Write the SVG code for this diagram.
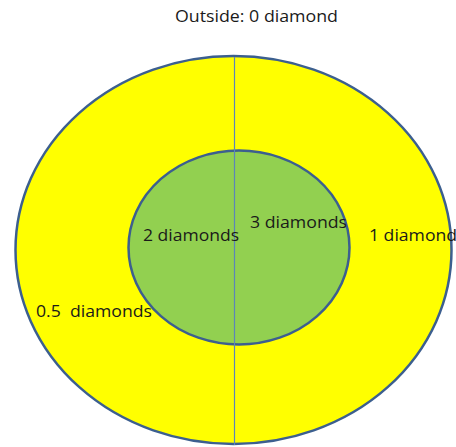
<svg xmlns="http://www.w3.org/2000/svg" width="456" height="447" viewBox="0 0 456 447">
<style>
.lbl{font-family:"Open Sans","Liberation Sans",sans-serif;font-size:16px;fill:#1a1a1a;white-space:pre}
.ring{stroke:#3c5f8f;stroke-width:2.5}
</style>
<rect width="456" height="447" fill="#ffffff"/>
<g id="outer">
<ellipse class="ring" cx="233.5" cy="250" rx="218" ry="194" fill="#ffff00"/>
</g>
<g id="inner">
<ellipse class="ring" cx="239" cy="247.5" rx="110.5" ry="97" fill="#92d050"/>
</g>
<g id="connectors">
<line x1="234.5" y1="57" x2="234.5" y2="445" stroke="#5b86b8" stroke-width="1.2"/>
</g>
<g id="labels">
<text class="lbl" x="175" y="22" textLength="163" lengthAdjust="spacingAndGlyphs">Outside: 0 diamond</text>
<text class="lbl" x="143" y="241" textLength="96" lengthAdjust="spacingAndGlyphs">2 diamonds</text>
<text class="lbl" x="250" y="228" textLength="97" lengthAdjust="spacingAndGlyphs">3 diamonds</text>
<text class="lbl" x="369" y="241" textLength="88" lengthAdjust="spacingAndGlyphs">1 diamond</text>
<text class="lbl" x="36" y="317" textLength="116" lengthAdjust="spacingAndGlyphs">0.5  diamonds</text>
</g>
</svg>
